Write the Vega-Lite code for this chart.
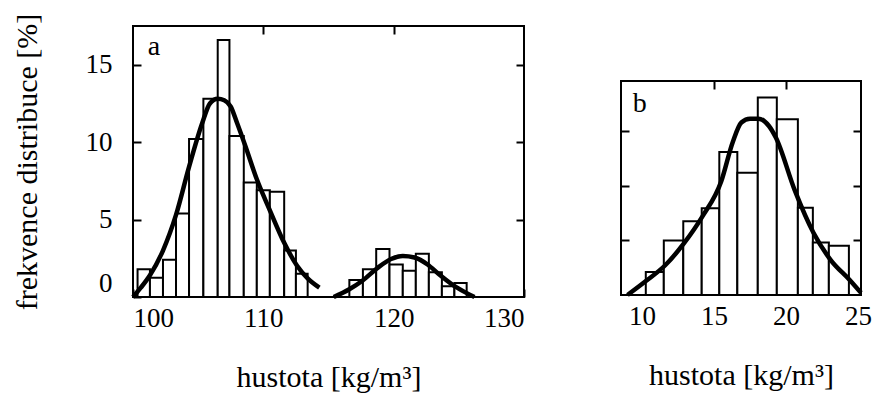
{
  "$schema": "https://vega.github.io/schema/vega-lite/v6.json",
  "padding": {"left": 10, "top": 12, "right": 0, "bottom": 0},
  "background": "white",
  "config": {
    "font": "Liberation Serif",
    "view": {"stroke": "black", "strokeWidth": 2},
    "axis": {
      "grid": false, "domain": false,
      "labelFont": "Liberation Serif", "titleFont": "Liberation Serif",
      "labelFontSize": 27, "titleFontSize": 30,
      "labelColor": "black", "titleColor": "black", "titleFontWeight": "normal",
      "tickColor": "black", "tickWidth": 2, "tickSize": -8
    }
  },
  "datasets": {
    "bars_a": [
      {"x0": 100.35, "x1": 101.3, "h": 1.8},
      {"x0": 101.3, "x1": 102.3, "h": 1.25},
      {"x0": 102.3, "x1": 103.3, "h": 2.4},
      {"x0": 103.3, "x1": 104.3, "h": 5.4},
      {"x0": 104.3, "x1": 105.4, "h": 10.2},
      {"x0": 105.4, "x1": 106.5, "h": 12.8},
      {"x0": 106.5, "x1": 107.4, "h": 16.6},
      {"x0": 107.4, "x1": 108.5, "h": 10.4},
      {"x0": 108.5, "x1": 109.5, "h": 7.4},
      {"x0": 109.5, "x1": 110.5, "h": 6.9},
      {"x0": 110.5, "x1": 111.6, "h": 6.8},
      {"x0": 111.6, "x1": 112.5, "h": 3.0},
      {"x0": 112.5, "x1": 113.4, "h": 1.5},
      {"x0": 116.6, "x1": 117.64, "h": 1.1},
      {"x0": 117.64, "x1": 118.66, "h": 1.8},
      {"x0": 118.66, "x1": 119.68, "h": 3.1},
      {"x0": 119.68, "x1": 120.7, "h": 2.1},
      {"x0": 120.7, "x1": 121.7, "h": 1.7},
      {"x0": 121.7, "x1": 122.7, "h": 2.8},
      {"x0": 122.7, "x1": 123.7, "h": 1.6},
      {"x0": 123.7, "x1": 124.66, "h": 0.7},
      {"x0": 124.66, "x1": 125.6, "h": 0.9}
    ],
    "curve_a": [
      {"curve": "1", "x": 100.0, "y": 0},
      {"curve": "1", "x": 100.6, "y": 0.6},
      {"curve": "1", "x": 101.3, "y": 1.4},
      {"curve": "1", "x": 102.3, "y": 3.0},
      {"curve": "1", "x": 103.3, "y": 5.3},
      {"curve": "1", "x": 104.3, "y": 8.4},
      {"curve": "1", "x": 105.3, "y": 11.2},
      {"curve": "1", "x": 105.9, "y": 12.5},
      {"curve": "1", "x": 106.5, "y": 12.8},
      {"curve": "1", "x": 107.0, "y": 12.7},
      {"curve": "1", "x": 107.5, "y": 12.3},
      {"curve": "1", "x": 108.0, "y": 11.2},
      {"curve": "1", "x": 108.6, "y": 9.8},
      {"curve": "1", "x": 109.5, "y": 7.6},
      {"curve": "1", "x": 110.5, "y": 5.6},
      {"curve": "1", "x": 111.6, "y": 3.5},
      {"curve": "1", "x": 112.6, "y": 2.0},
      {"curve": "1", "x": 113.4, "y": 1.2},
      {"curve": "1", "x": 114.3, "y": 0.6},
      {"curve": "2", "x": 115.4, "y": 0},
      {"curve": "2", "x": 116.6, "y": 0.5},
      {"curve": "2", "x": 117.6, "y": 1.05},
      {"curve": "2", "x": 118.8, "y": 1.9},
      {"curve": "2", "x": 119.8, "y": 2.45},
      {"curve": "2", "x": 120.7, "y": 2.65},
      {"curve": "2", "x": 121.6, "y": 2.55},
      {"curve": "2", "x": 122.6, "y": 2.1},
      {"curve": "2", "x": 123.5, "y": 1.45},
      {"curve": "2", "x": 124.5, "y": 0.8},
      {"curve": "2", "x": 125.5, "y": 0.3},
      {"curve": "2", "x": 126.2, "y": 0}
    ],
    "bars_b": [
      {"x0": 10.27, "x1": 11.52, "h": 2.1},
      {"x0": 11.52, "x1": 12.87, "h": 5.0},
      {"x0": 12.87, "x1": 14.15, "h": 6.75},
      {"x0": 14.15, "x1": 15.37, "h": 7.95},
      {"x0": 15.37, "x1": 16.62, "h": 13.1},
      {"x0": 16.62, "x1": 18.04, "h": 11.2},
      {"x0": 18.04, "x1": 19.36, "h": 18.1},
      {"x0": 19.36, "x1": 20.82, "h": 16.1},
      {"x0": 20.82, "x1": 21.86, "h": 8.0},
      {"x0": 21.86, "x1": 22.97, "h": 4.8},
      {"x0": 22.97, "x1": 24.36, "h": 4.5}
    ],
    "curve_b": [
      {"x": 9.0, "y": 0},
      {"x": 10.3, "y": 1.3},
      {"x": 11.6, "y": 2.7},
      {"x": 12.9, "y": 4.7},
      {"x": 14.2, "y": 7.2},
      {"x": 15.5, "y": 10.4},
      {"x": 16.3, "y": 14.0},
      {"x": 16.9, "y": 15.8},
      {"x": 17.5, "y": 16.15},
      {"x": 18.1, "y": 16.15},
      {"x": 18.8, "y": 15.5},
      {"x": 19.3, "y": 14.4},
      {"x": 20.6, "y": 9.6},
      {"x": 21.9, "y": 5.7},
      {"x": 23.1, "y": 3.2},
      {"x": 24.4, "y": 1.4},
      {"x": 25.2, "y": 0.2}
    ],
    "labels": [
      {"panel": "a", "x": 101.6, "y": 15.6},
      {"panel": "b", "x": 9.85, "y": 16.8}
    ]
  },
  "spacing": 91,
  "hconcat": [
    {
      "width": 391,
      "height": 271,
      "resolve": {"axis": {"x": "independent", "y": "independent"}},
      "layer": [
        {
          "data": {"name": "bars_a"},
          "mark": {"type": "rect", "fill": "white", "stroke": "black", "strokeWidth": 2},
          "encoding": {
            "x": {"field": "x0", "type": "quantitative",
              "scale": {"domain": [100, 130], "nice": false, "zero": false},
              "axis": {"orient": "bottom", "values": [100, 110, 120, 130], "title": "hustota [kg/m³]",
                "labelPadding": 16, "titlePadding": 31, "labelFlush": true}},
            "x2": {"field": "x1"},
            "y": {"field": "h", "type": "quantitative",
              "scale": {"domain": [0, 17.5], "nice": false, "zero": false},
              "axis": {"orient": "left", "values": [0, 5, 10, 15], "title": "frekvence distribuce [%]",
                "labelPadding": 29, "titlePadding": 43, "labelFlush": true}},
            "y2": {"datum": 0}
          }
        },
        {
          "data": {"name": "curve_a"},
          "mark": {"type": "line", "stroke": "black", "strokeWidth": 4.5, "interpolate": "monotone"},
          "encoding": {
            "x": {"field": "x", "type": "quantitative",
              "scale": {"domain": [100, 130], "nice": false, "zero": false},
              "axis": {"orient": "top", "values": [110, 120], "labels": false, "title": null}},
            "y": {"field": "y", "type": "quantitative",
              "scale": {"domain": [0, 17.5], "nice": false, "zero": false},
              "axis": {"orient": "right", "values": [5, 10, 15], "labels": false, "title": null}},
            "detail": {"field": "curve"}
          }
        },
        {
          "data": {"name": "labels"},
          "transform": [{"filter": "datum.panel == 'a'"}],
          "mark": {"type": "text", "font": "Liberation Serif", "fontSize": 28, "align": "center", "baseline": "alphabetic", "color": "black"},
          "encoding": {
            "x": {"field": "x", "type": "quantitative", "scale": {"domain": [100, 130], "nice": false, "zero": false}, "axis": null},
            "y": {"field": "y", "type": "quantitative", "scale": {"domain": [0, 17.5], "nice": false, "zero": false}, "axis": null},
            "text": {"field": "panel"}
          }
        }
      ]
    },
    {
      "spacing": 0,
      "vconcat": [
        {
          "width": 240,
          "height": 53,
          "view": {"stroke": null},
          "data": {"values": []},
          "mark": "point"
        },
        {
          "width": 240,
          "height": 214,
          "resolve": {"axis": {"x": "independent", "y": "independent"}},
          "layer": [
            {
              "data": {"name": "bars_b"},
              "mark": {"type": "rect", "fill": "white", "stroke": "black", "strokeWidth": 2},
              "encoding": {
                "x": {"field": "x0", "type": "quantitative",
                  "scale": {"domain": [8.55, 25.2], "nice": false, "zero": false},
                  "axis": {"orient": "bottom", "values": [10, 15, 20, 25], "title": "hustota [kg/m³]",
                    "labelPadding": 16, "titlePadding": 31, "labelFlush": false,
                    "tickOpacity": {"condition": {"test": "datum.value > 12 && datum.value < 23", "value": 1}, "value": 0}}},
                "x2": {"field": "x1"},
                "y": {"field": "h", "type": "quantitative",
                  "scale": {"domain": [0, 19.6], "nice": false, "zero": false},
                  "axis": {"orient": "left", "values": [5, 10, 15], "labels": false, "title": null}},
                "y2": {"datum": 0}
              }
            },
            {
              "data": {"name": "curve_b"},
              "mark": {"type": "line", "stroke": "black", "strokeWidth": 4.5, "interpolate": "monotone"},
              "encoding": {
                "x": {"field": "x", "type": "quantitative",
                  "scale": {"domain": [8.55, 25.2], "nice": false, "zero": false},
                  "axis": {"orient": "top", "values": [15, 20], "labels": false, "title": null}},
                "y": {"field": "y", "type": "quantitative",
                  "scale": {"domain": [0, 19.6], "nice": false, "zero": false},
                  "axis": {"orient": "right", "values": [5, 10, 15], "labels": false, "title": null}}
              }
            },
            {
              "data": {"name": "labels"},
              "transform": [{"filter": "datum.panel == 'b'"}],
              "mark": {"type": "text", "font": "Liberation Serif", "fontSize": 28, "align": "center", "baseline": "alphabetic", "color": "black"},
              "encoding": {
                "x": {"field": "x", "type": "quantitative", "scale": {"domain": [8.55, 25.2], "nice": false, "zero": false}, "axis": null},
                "y": {"field": "y", "type": "quantitative", "scale": {"domain": [0, 19.6], "nice": false, "zero": false}, "axis": null},
                "text": {"field": "panel"}
              }
            }
          ]
        }
      ]
    }
  ]
}
